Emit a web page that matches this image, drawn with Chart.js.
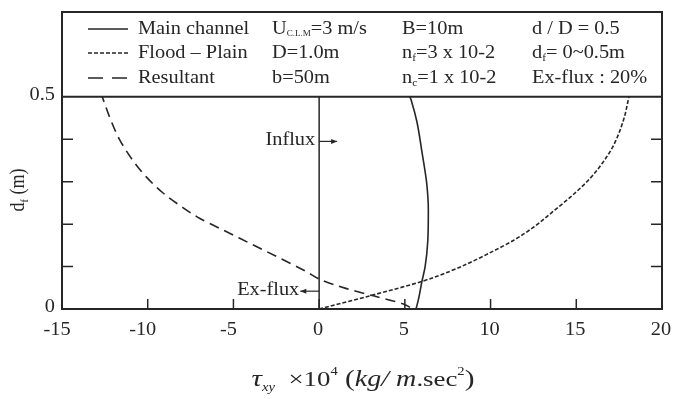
<!DOCTYPE html>
<html>
<head>
<meta charset="utf-8">
<title>Shear stress across flood-plain depth</title>
<script src="https://cdn.jsdelivr.net/npm/chart.js@4.4.1/dist/chart.umd.min.js"></script>
<style>
  html, body { margin: 0; padding: 0; background: #fff; }
</style>
</head>
<body>
<canvas id="shearChart" width="674" height="399"></canvas>
<script>
// axis ticks
const stressTicks = [-15, -10, -5, 0, 5, 10, 15, 20];
const depthTicks = [0, 0.1, 0.2, 0.3, 0.4, 0.5];
const depthTickLabels = ['0', '', '', '', '', '0.5'];

// [tau_xy x 10^4, d_f] pairs
const mainChannel = [
  [5.3, 0.5], [5.4, 0.488], [5.7, 0.442], [5.99, 0.372], [6.28, 0.294], [6.37, 0.232],
  [6.34, 0.162], [6.18, 0.099], [5.99, 0.064], [5.79, 0.022], [5.65, 0]
];
const floodPlain = [
  [0, 0], [3.14, 0.033], [5.99, 0.065], [7.64, 0.089], [9.4, 0.121], [10.18, 0.137],
  [11.35, 0.162], [12.51, 0.193], [13.68, 0.231], [14.86, 0.271], [15.83, 0.309],
  [16.61, 0.349], [17.19, 0.387], [17.78, 0.449], [18.07, 0.5]
];
const resultant = [
  [-12.65, 0.5], [-12.2, 0.45], [-11.65, 0.4], [-10.9, 0.352], [-10.1, 0.312], [-9.12, 0.274],
  [-7.95, 0.239], [-6.98, 0.214], [-5.8, 0.19], [-4.05, 0.155], [-2.1, 0.116], [-0.74, 0.088],
  [0.04, 0.07], [1.6, 0.048], [3.16, 0.031], [4.91, 0.012], [5.3, 0.004]
];

// flux arrows: [label, depth, arrow end]
const fluxArrows = [['Influx', 0.395, 1.05], ['Ex-flux', 0.042, -1.1]];

const INK = '#262626';
const SERIF = '"Liberation Serif", "Times New Roman", serif';
const SX = 1.13; // text is set a little wide

function font(size, italic) {
  return (italic ? 'italic ' : '') + size + 'px ' + SERIF;
}

// draws a run of text pieces; a piece is a string or {t, size, italic, dy}
function drawRich(ctx, x, y, parts, size, align, stretch) {
  const pieces = parts.map(p => typeof p === 'string' ? { t: p } : p);
  ctx.save();
  ctx.fillStyle = INK;
  ctx.textBaseline = 'middle';
  ctx.textAlign = 'left';
  let w = 0;
  pieces.forEach(p => { ctx.font = font(p.size || size, p.italic); w += ctx.measureText(p.t).width; });
  ctx.translate(x, y);
  ctx.scale(stretch || SX, 1);
  let cx = align === 'center' ? -w / 2 : align === 'right' ? -w : 0;
  pieces.forEach(p => {
    ctx.font = font(p.size || size, p.italic);
    ctx.fillText(p.t, cx, p.dy || 0);
    cx += ctx.measureText(p.t).width;
  });
  ctx.restore();
}

const sub = t => ({ t: t, size: 10, dy: 5 });

const legendRows = [
  { dash: [], parts: [['Main channel'], ['U', { t: 'C.L.M', size: 8, dy: 5 }, '=3 m/s'], ['B=10m'], ['d / D = 0.5']] },
  { dash: [4, 2], parts: [['Flood \u2013 Plain'], ['D=1.0m'], ['n', sub('f'), '=3 x 10-2'], ['d', sub('f'), '= 0~0.5m']] },
  { dash: [15, 9], parts: [['Resultant'], ['b=50m'], ['n', sub('c'), '=1 x 10-2'], ['Ex-flux : 20%']] }
];

const annotations = {
  id: 'annotations',
  afterDatasetsDraw(chart) {
    const { ctx, chartArea: a, scales: { x, y } } = chart;
    const y05 = y.getPixelForValue(0.5);
    const x0 = x.getPixelForValue(0);

    ctx.save();
    ctx.strokeStyle = INK;
    ctx.lineWidth = 1.5;

    // zero line and top of the water
    ctx.beginPath();
    ctx.moveTo(x0, y.getPixelForValue(0));
    ctx.lineTo(x0, y05);
    ctx.stroke();
    ctx.lineWidth = 2;
    ctx.beginPath();
    ctx.moveTo(a.left, y05);
    ctx.lineTo(a.right, y05);
    ctx.stroke();

    // frame
    ctx.strokeRect(a.left, a.top, a.right - a.left, a.bottom - a.top);

    // inward tick marks
    ctx.lineWidth = 1.5;
    stressTicks.slice(1, -1).forEach(v => {
      const px = x.getPixelForValue(v);
      ctx.beginPath();
      ctx.moveTo(px, a.bottom);
      ctx.lineTo(px, a.bottom - 10);
      ctx.stroke();
    });
    depthTicks.slice(1, -1).forEach(v => {
      const py = y.getPixelForValue(v);
      ctx.beginPath();
      ctx.moveTo(a.left, py);
      ctx.lineTo(a.left + 11, py);
      ctx.moveTo(a.right, py);
      ctx.lineTo(a.right - 11, py);
      ctx.stroke();
    });

    // tick labels
    stressTicks.forEach(v => drawRich(ctx, x.getPixelForValue(v) - (v < 0 ? 5 : 1), a.bottom + 21, [String(v)], 18, 'center'));
    depthTicks.forEach((v, i) => {
      if (depthTickLabels[i]) drawRich(ctx, a.left - 7, y.getPixelForValue(v) - 2, [depthTickLabels[i]], 18, 'right');
    });

    // legend block
    const rowY = [29, 53, 78];
    const colX = [138, 272, 402, 532];
    legendRows.forEach((row, r) => {
      ctx.setLineDash(row.dash);
      ctx.lineWidth = 1.6;
      ctx.beginPath();
      ctx.moveTo(88, rowY[r]);
      ctx.lineTo(128, rowY[r]);
      ctx.stroke();
      ctx.setLineDash([]);
      row.parts.forEach((p, c) => drawRich(ctx, colX[c], rowY[r], p, 18, 'left'));
    });

    // flux arrows
    ctx.fillStyle = INK;
    fluxArrows.forEach(([label, d, end]) => {
      const py = y.getPixelForValue(d);
      const tip = x.getPixelForValue(end);
      const dir = Math.sign(end);
      ctx.lineWidth = 1.2;
      ctx.beginPath();
      ctx.moveTo(x0, py);
      ctx.lineTo(tip, py);
      ctx.stroke();
      ctx.beginPath();
      ctx.moveTo(tip, py);
      ctx.lineTo(tip - dir * 6, py - 2.5);
      ctx.lineTo(tip - dir * 6, py + 2.5);
      ctx.closePath();
      ctx.fill();
      const textRight = dir > 0 ? x0 - 4 : tip - 1;
      drawRich(ctx, textRight, py - 1, [label], 18, 'right');
    });

    // axis titles
    drawRich(ctx, 363, 380, [
      { t: '\u03c4', italic: true, size: 24 }, { t: 'xy', italic: true, size: 12, dy: 8 },
      { t: '  \u00d710', size: 22 }, { t: '4', size: 12, dy: -8 },
      { t: ' (', size: 24 }, { t: 'kg', italic: true, size: 23 }, { t: '/', italic: true, size: 23 },
      { t: ' m', italic: true, size: 23 }, { t: '.sec', size: 22 }, { t: '2', size: 12, dy: -8 },
      { t: ')', size: 24 }
    ], 22, 'center', 1.22);

    ctx.save();
    ctx.translate(19, 190);
    ctx.rotate(-Math.PI / 2);
    ctx.scale(1, SX);
    ctx.fillStyle = INK;
    ctx.textBaseline = 'middle';
    ctx.font = font(18);
    const dW = ctx.measureText('d').width;
    ctx.font = font(10);
    const fW = ctx.measureText('f').width;
    ctx.font = font(18);
    const mW = ctx.measureText(' (m)').width;
    const cx = -(dW + fW + mW) / 2;
    ctx.fillText('d', cx, 0);
    ctx.font = font(10);
    ctx.fillText('f', cx + dW, 5);
    ctx.font = font(18);
    ctx.fillText(' (m)', cx + dW + fW, 0);
    ctx.restore();

    ctx.restore();
  }
};

// each curve is a function of depth, so points run in depth order
const toPoints = arr => arr.map(([s, d]) => ({ x: s, y: d })).sort((p, q) => p.y - q.y);

new Chart(document.getElementById('shearChart').getContext('2d'), {
  type: 'scatter',
  data: {
    datasets: [
      { label: 'Main channel', data: toPoints(mainChannel), borderDash: [] },
      { label: 'Flood - Plain', data: toPoints(floodPlain), borderDash: [4, 2] },
      { label: 'Resultant', data: toPoints(resultant), borderDash: [10, 6] }
    ].map(ds => Object.assign(ds, {
      showLine: true,
      indexAxis: 'y',
      cubicInterpolationMode: 'monotone',
      borderColor: INK,
      borderWidth: 1.6,
      pointRadius: 0,
      fill: false
    }))
  },
  options: {
    responsive: false,
    animation: false,
    devicePixelRatio: 1,
    layout: { padding: { top: 12, right: 12, left: 0, bottom: 0 } },
    plugins: { legend: { display: false }, tooltip: { enabled: false } },
    scales: {
      x: {
        type: 'linear', min: -15, max: 20,
        afterBuildTicks: s => { s.ticks = stressTicks.map(v => ({ value: v })); },
        afterFit: s => { s.height = 90; },
        ticks: { display: false },
        grid: { display: false },
        border: { display: false }
      },
      y: {
        type: 'linear', min: 0, max: 0.7,
        afterBuildTicks: s => { s.ticks = depthTicks.map(v => ({ value: v })); },
        afterFit: s => { s.width = 62; },
        ticks: { display: false },
        grid: { display: false },
        border: { display: false }
      }
    }
  },
  plugins: [annotations]
});
</script>
</body>
</html>
